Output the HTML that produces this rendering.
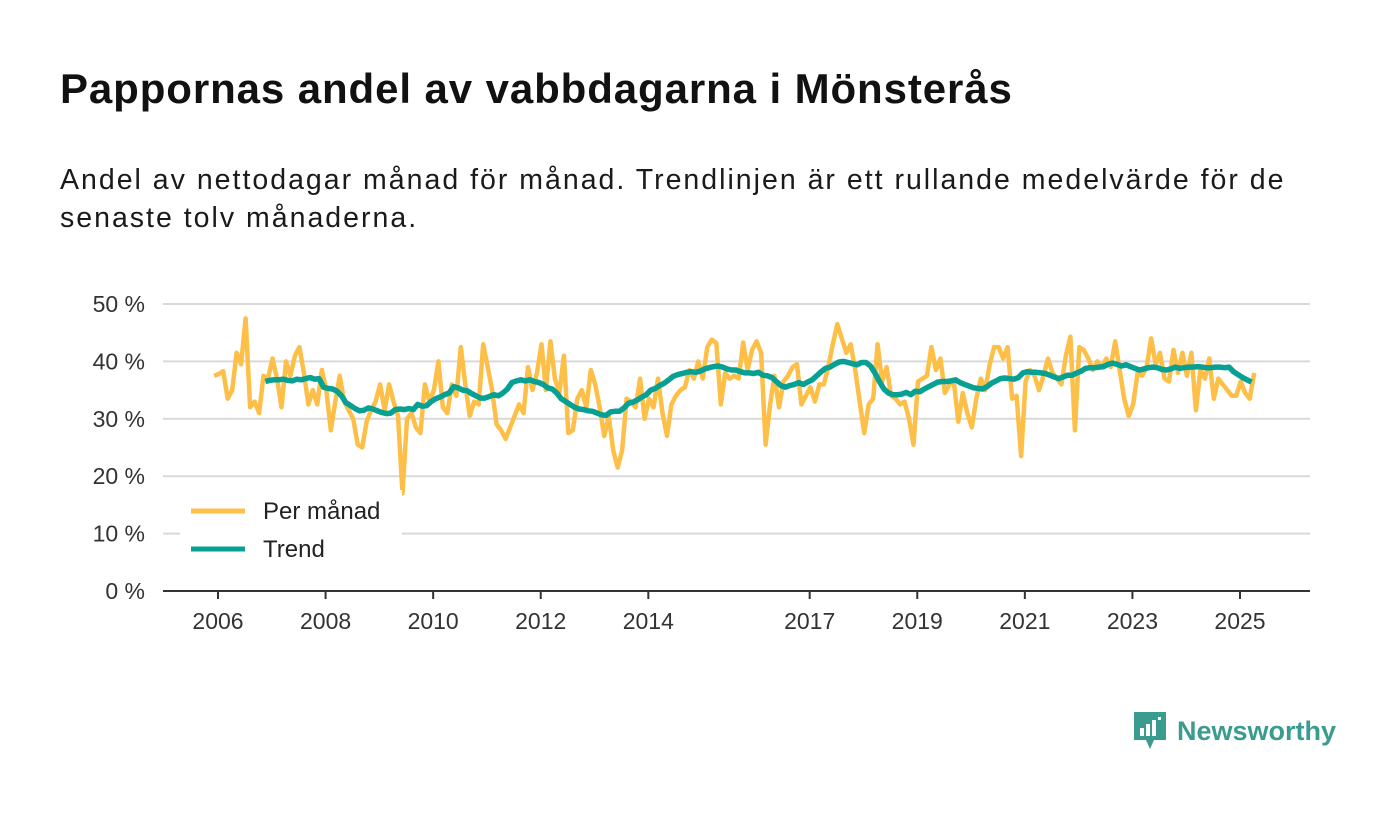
<!DOCTYPE html>
<html><head><meta charset="utf-8">
<style>
body{margin:0;width:1400px;height:813px;background:#fff;font-family:"Liberation Sans",sans-serif;overflow:hidden;position:relative}
h1{position:absolute;left:60px;top:65px;margin:0;font-size:42px;letter-spacing:0.9px;font-weight:bold;color:#111;white-space:nowrap}
.sub{position:absolute;left:60px;top:161px;margin:0;font-size:28.5px;letter-spacing:2px;line-height:38px;color:#1a1a1a;width:1260px}
svg{position:absolute;left:0;top:0}
</style></head><body>
<h1>Pappornas andel av vabbdagarna i Mönsterås</h1>
<p class="sub">Andel av nettodagar månad för månad. Trendlinjen är ett rullande medelvärde för de senaste tolv månaderna.</p>
<svg id="chart" width="1400" height="813"></svg>
<script>
const monthly=[37.5,37.8,38.3,33.5,35,41.5,39.5,47.5,32,33,31,37.5,
37,40.5,37,32,40,37.5,41,42.5,38,32.5,35,32.5,
38.5,35,28,33,37.5,33,31.5,30,25.5,25,29.5,31.5,
33,36,31.5,36,33,30.5,17,30,31,28.5,27.5,36,
33,35,40,32,31,36,34,42.5,36,30.5,33,32.5,
43,39,35,29,28,26.5,28.5,30.5,32.5,31,39,35,
38,43,35,43.5,37,34.5,41,27.5,28,33.5,35,32,
38.5,36,32,27,30.5,24.5,21.5,24.5,33.5,33,32,37,
30,33.5,32,37,31,27,32.5,34,35,35.5,38.5,37,
40,37,42.5,43.8,43.2,32.5,38,37,37.5,37,43.3,38.5,
42,43.5,41.5,25.5,32.5,37.5,32,36.5,37.5,39,39.5,32.5,
34,35.5,33,36,36,39,43,46.5,44,41.5,43,38.5,
33,27.5,32.5,33.5,43,36.5,39,34,33.5,32.5,33,30,
25.5,36.5,37,37.5,42.5,38.5,40.5,34.5,36,36.5,29.5,34.5,
31,28.5,33.5,37,35,39.5,42.5,42.5,40.5,42.5,33.5,34,
23.5,36.5,38.5,37.5,35,37.5,40.5,38,37,36,41,44.3,
28,42.5,42,40.5,38.5,40,39,40.5,39,43.5,38.5,33.5,
30.5,32.5,38,37.5,39,44,39.5,41.5,37,36.5,42,38,
41.5,37.5,41.5,31.5,38.5,37,40.5,33.5,37,36,35,34,
34,36.5,34.5,33.5,38];
const trend=[36.5,36.7,36.8,36.8,36.9,36.7,36.6,36.9,36.8,37,37.2,36.9,
37,35.5,35.3,35.2,34.8,34,32.8,32.3,31.8,31.4,31.5,31.9,
31.7,31.4,31.1,30.9,31,31.6,31.7,31.6,31.8,31.6,32.5,32.2,
32.3,33,33.5,33.8,34.2,34.5,35.6,35.4,35,34.9,34.4,34,
33.6,33.6,33.9,34.2,34,34.5,35.2,36.3,36.6,36.8,36.6,36.8,
36.5,36.3,36,35.4,35.2,34.5,33.5,33,32.5,32,31.7,31.6,
31.4,31.3,31,30.7,30.6,31.2,31.3,31.3,31.9,32.7,32.9,33.3,
33.8,34.2,35,35.3,35.8,36.2,36.8,37.4,37.7,37.9,38.1,38.2,
38.1,38.3,38.7,38.9,39.1,39.2,39,38.7,38.5,38.5,38.2,38,
38,37.9,38.1,37.6,37.5,37.2,36.5,35.8,35.5,35.8,36,36.3,
36,36.4,36.8,37.5,38.2,38.8,39,39.5,39.9,40,39.8,39.6,
39.4,39.8,39.8,39.2,38,36.5,35.2,34.5,34.2,34.2,34.3,34.6,
34.2,34.8,34.7,35.2,35.6,36,36.4,36.5,36.5,36.6,36.8,36.3,
36,35.7,35.4,35.3,35.2,35.6,36.2,36.6,37,37.1,37,36.9,
37.2,38,38.2,38.1,38.1,38,37.9,37.6,37.3,37,37.3,37.6,
37.6,38,38.3,38.8,38.9,38.9,39,39.1,39.5,39.7,39.5,39.2,
39.4,39.1,38.8,38.5,38.7,38.9,39,38.9,38.6,38.5,38.7,39,
38.8,38.9,39,39,39.1,39,38.9,38.9,39,39,38.9,39,
38.2,37.7,37.2,36.8,36.4];
const yTicks=[0,10,20,30,40,50];
const xTicks=[2006,2008,2010,2012,2014,2017,2019,2021,2023,2025];
const NS="http://www.w3.org/2000/svg",svg=document.getElementById('chart');
const X=t=>218+(t-2006)*(1240-218)/19;
const Y=v=>591-v*(591-304)/50;
function el(tag,a,p){const e=document.createElementNS(NS,tag);for(const k in a)e.setAttribute(k,a[k]);(p||svg).appendChild(e);return e;}
yTicks.forEach(v=>{
  if(v>0){const g=el('line',{x1:163,x2:1310,y1:Y(v),y2:Y(v),stroke:'#d9d9d9','stroke-width':2});
  
  }
  const t=el('text',{x:145,y:Y(v)+8,'text-anchor':'end','font-size':23,fill:'#333'});
  t.textContent=v+' %';
  
  
});
const ax=el('line',{x1:163,x2:1310,y1:591,y2:591,stroke:'#333','stroke-width':2});


xTicks.forEach(yr=>{
  el('line',{x1:X(yr),x2:X(yr),y1:591,y2:599,stroke:'#333','stroke-width':2});
  const t=el('text',{x:X(yr),y:629,'text-anchor':'middle','font-size':23,fill:'#333'});
  t.textContent=yr;
  
  
});
function path(arr,start,color,w,name){
  const d=arr.map((v,i)=>(i?'L':'M')+X(start+i/12).toFixed(1)+','+Y(v).toFixed(1)).join('');
  const p=el('path',{d:d,fill:'none',stroke:color,'stroke-width':w,'stroke-linejoin':'round'});
  
  
}
path(monthly,2005.93,'#fdbf47',4.5,'monthly-line');
path(trend,2006.88,'#07a092',5.5,'trend-line');
const lb=el('rect',{x:180,y:490,width:222,height:78,fill:'#fff'});


[['Per månad','#fdbf47',511],['Trend','#07a092',549]].forEach(([n,c,y])=>{
  const g=el('g',{});
  
  
  el('line',{x1:191,x2:245,y1:y,y2:y,stroke:c,'stroke-width':5},g);
  const t=el('text',{x:263,y:y+8,'font-size':24,fill:'#222'},g);t.textContent=n;
});
</script>
<div style="position:absolute;left:1133px;top:711px;display:flex;align-items:center">
<svg width="34" height="40" viewBox="0 0 34 40" style="position:static"><path d="M1 1h32v28H21l-4 9-4-9H1z" fill="#3a9b8f"/><rect x="7" y="17" width="4" height="8" fill="#fff"/><rect x="13" y="13" width="4" height="12" fill="#fff"/><rect x="19" y="9" width="4" height="16" fill="#fff"/><rect x="25" y="6" width="3" height="3" fill="#fff"/></svg>
<span style="font-size:27px;font-weight:bold;color:#3a9b8f;margin-left:10px">Newsworthy</span></div>
</body></html>
